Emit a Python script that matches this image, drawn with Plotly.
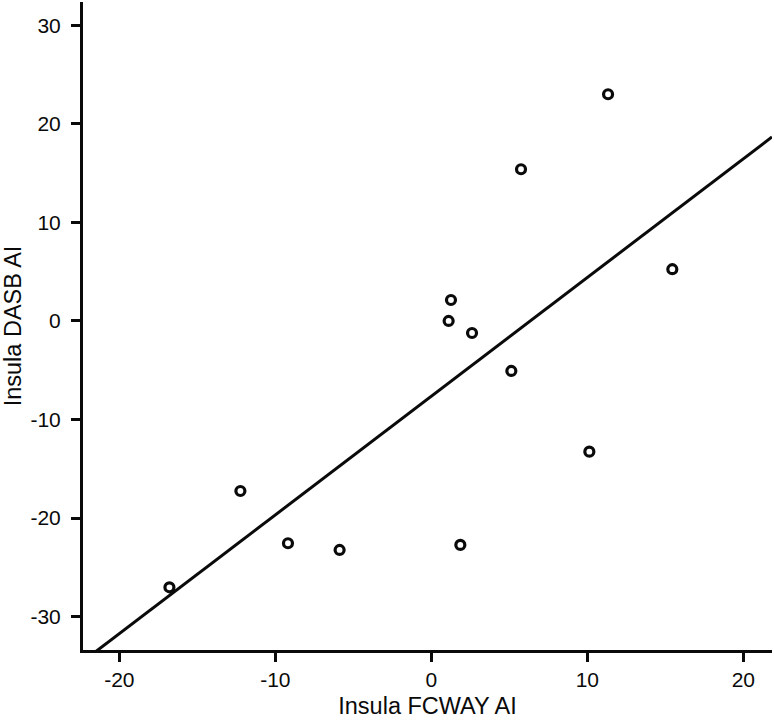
import numpy as np
import plotly.graph_objects as go

fcway_ai = [-16.79, -12.24, -9.19, -5.88, 1.11, 1.26, 2.61, 1.86, 5.13, 5.75, 10.13, 11.33, 15.45]
dasb_ai = [-27.02, -17.25, -22.55, -23.23, 0.00, 2.13, -1.22, -22.72, -5.07, 15.39, -13.26, 23.00, 5.25]

x_ticks = [-20, -10, 0, 10, 20]
y_ticks = [-30, -20, -10, 0, 10, 20, 30]
x_range = [-22.33, 21.84]
y_range = [-33.38, 32.36]

slope, intercept = np.polyfit(fcway_ai, dasb_ai, 1)
fit_x = np.array(x_range)
fit_y = slope * fit_x + intercept

ink = "#0a0a0a"
tick_font = dict(family="Liberation Sans, Arial, sans-serif", size=21, color=ink)
title_font = dict(family="Liberation Sans, Arial, sans-serif", size=23.5, color=ink)

fig = go.Figure()
fig.add_trace(go.Scatter(x=fit_x, y=fit_y, mode="lines",
                         line=dict(color=ink, width=3), showlegend=False))
fig.add_trace(go.Scatter(x=fcway_ai, y=dasb_ai, mode="markers",
                         marker=dict(symbol="circle-open", size=9, color=ink,
                                     line=dict(width=3.2, color=ink)),
                         showlegend=False))

axis_common = dict(showgrid=False, zeroline=False, showline=True, linecolor=ink,
                   linewidth=3, ticks="outside", ticklen=9, tickwidth=3,
                   tickcolor=ink, tickfont=tick_font, mirror=False, automargin=False)

fig.update_xaxes(range=x_range, tickvals=x_ticks, ticktext=[str(v) for v in x_ticks],
                 title=dict(text="Insula FCWAY AI", font=title_font, standoff=8),
                 ticklabelstandoff=0, **axis_common)
fig.update_yaxes(range=y_range, tickvals=y_ticks, ticktext=[str(v) for v in y_ticks],
                 title=dict(text="Insula DASB AI", font=title_font, standoff=6),
                 ticklabelstandoff=6, **axis_common)

fig.update_layout(width=774, height=724, plot_bgcolor="white", paper_bgcolor="white",
                  margin=dict(l=83, r=2, t=2, b=74), font=tick_font)

fig.write_html("out.html", config={"displayModeBar": False},
               post_script="document.body.style.margin='0';document.body.style.overflow='hidden';")
